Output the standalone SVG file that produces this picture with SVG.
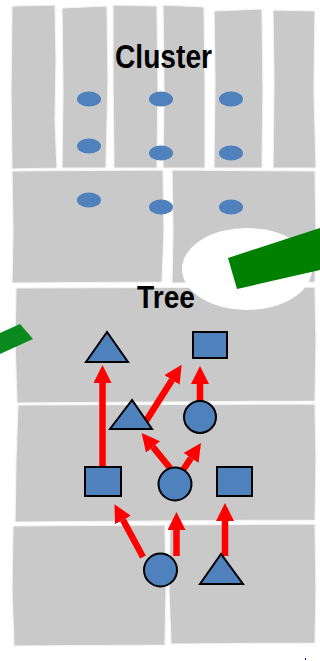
<svg xmlns="http://www.w3.org/2000/svg" width="320" height="661" viewBox="0 0 320 661">
<style>
.paper{fill:#c9c9c9;stroke:#f4f4f4;stroke-width:1.2}
.lbl{font-family:"Liberation Sans",Arial,sans-serif;font-weight:bold;fill:#000}
.dot{fill:#4f81bd}
.shape{fill:#4f81bd;stroke:#000;stroke-width:2}
.edge{stroke:#ff0000;stroke-width:6.5;fill:none;marker-end:url(#ah)}
</style>
<defs>
<marker id="ah" markerUnits="userSpaceOnUse" markerWidth="18" markerHeight="18" refX="0" refY="9" orient="auto" viewBox="0 0 18 18">
<path d="M0,0 L18,9 L0,18 Z" fill="#ff0000"/>
</marker>
</defs>
<rect width="320" height="661" fill="#ffffff"/>
<g id="background">
<polygon class="paper" points="12,6 55,5 56,60 55,120 57,168 12,169 11,90"/>
<polygon class="paper" points="62,8 107,6 108,80 106,168 62,168 63,90"/>
<polygon class="paper" points="113,5 157,6 158,90 157,168 114,168 113,80"/>
<polygon class="paper" points="163,5 204,7 205,80 205,168 163,168 164,90"/>
<polygon class="paper" points="214,11 262,9 263,90 262,168 214,168 215,80"/>
<polygon class="paper" points="273,10 315,11 314,90 316,168 273,168 274,80"/>
<polygon class="paper" points="12,171 163,170 164,230 162,282 12,283 13,230"/>
<polygon class="paper" points="172,170 315,171 316,230 315,282 172,283 173,230"/>
<polygon class="paper" points="16,288 315,287 316,340 315,401 17,403 15,340"/>
<polygon class="paper" points="18,405 315,404 316,460 315,520 15,522 16,460"/>
<polygon class="paper" points="13,526 165,525 166,590 165,645 14,646 12,590"/>
<polygon class="paper" points="170,525 315,524 316,590 315,643 171,644 169,590"/>
</g>
<ellipse id="spot" cx="247" cy="269" rx="65" ry="41" fill="#ffffff"/>
<polygon id="bar-right" points="228,258 320,228 320,270 237,289" fill="#008000"/>
<polygon id="bar-left" points="0,333 20,324 33,339 0,354" fill="#0a8a1e"/>
<text class="lbl" x="115" y="68" font-size="33" textLength="97" lengthAdjust="spacingAndGlyphs">Cluster</text>
<g id="cluster">
<ellipse class="dot" cx="89" cy="99" rx="12" ry="7.5"/>
<ellipse class="dot" cx="161" cy="99" rx="12" ry="7.5"/>
<ellipse class="dot" cx="231" cy="99" rx="12" ry="7.5"/>
<ellipse class="dot" cx="89" cy="146" rx="12" ry="7.5"/>
<ellipse class="dot" cx="161" cy="153" rx="12" ry="7.5"/>
<ellipse class="dot" cx="231" cy="153" rx="12" ry="7.5"/>
<ellipse class="dot" cx="89" cy="200" rx="12" ry="7.5"/>
<ellipse class="dot" cx="161" cy="207" rx="12" ry="7.5"/>
<ellipse class="dot" cx="231" cy="207" rx="12" ry="7.5"/>
</g>
<text class="lbl" x="137" y="308" font-size="31" textLength="58" lengthAdjust="spacingAndGlyphs">Tree</text>
<g id="connectors">
<line class="edge" x1="102.5" y1="467" x2="102.5" y2="383"/>
<line class="edge" x1="146" y1="421" x2="172" y2="380"/>
<line class="edge" x1="200" y1="401" x2="200" y2="384"/>
<line class="edge" x1="170" y1="468" x2="153" y2="447"/>
<line class="edge" x1="183" y1="470" x2="191" y2="458"/>
<line class="edge" x1="143" y1="557" x2="123" y2="520"/>
<line class="edge" x1="176.5" y1="556" x2="176.5" y2="530"/>
<line class="edge" x1="225" y1="556" x2="225" y2="521"/>
</g>
<g id="n-tri-top"><polygon class="shape" points="107,332 86,362 128,362"/></g>
<g id="n-sq-top"><rect class="shape" x="193" y="332" width="34" height="26"/></g>
<g id="n-tri-mid"><polygon class="shape" points="132,400 110,429 152,429"/></g>
<g id="n-circ-mid"><circle class="shape" cx="200" cy="417" r="16"/></g>
<g id="n-sq-left"><rect class="shape" x="85" y="467" width="36" height="29"/></g>
<g id="n-circ-low"><circle class="shape" cx="175" cy="484" r="16.5"/></g>
<g id="n-sq-right"><rect class="shape" x="217" y="467" width="35" height="29"/></g>
<g id="n-circ-bottom"><circle class="shape" cx="160.5" cy="570" r="16.5"/></g>
<g id="n-tri-bottom"><polygon class="shape" points="221,554 200,584 243,584"/></g>
<rect x="305" y="658" width="1" height="2" fill="#0000ff"/>
</svg>
